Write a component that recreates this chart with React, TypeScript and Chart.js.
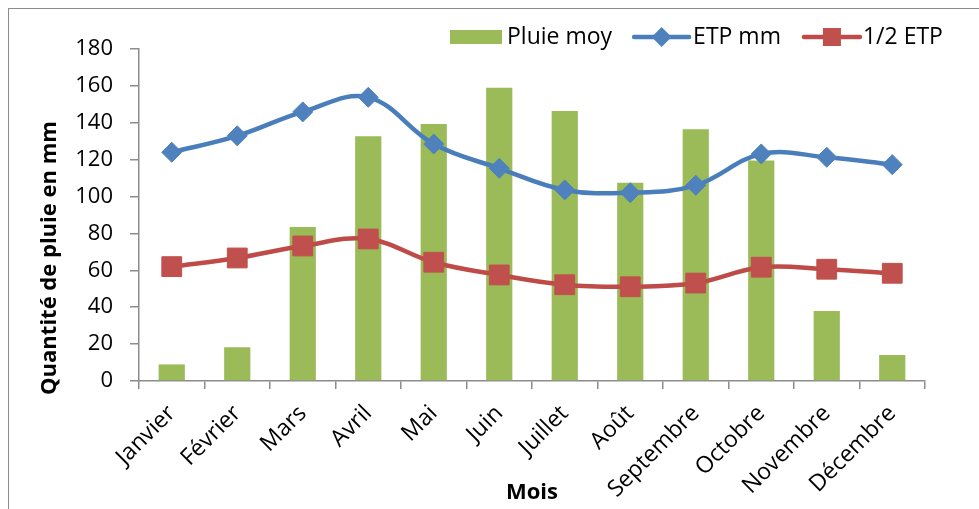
import React, { useEffect, useRef } from "react";
import { Chart, registerables } from "chart.js";

Chart.register(...registerables);

const months = [
  "Janvier", "Février", "Mars", "Avril", "Mai", "Juin",
  "Juillet", "Août", "Septembre", "Octobre", "Novembre", "Décembre",
];
const pluieMoy = [9, 18.3, 83.5, 132.7, 139.4, 159, 146.4, 107.5, 136.5, 119.5, 38, 14.1];
const etpMm = [124, 132.9, 145.9, 153.8, 128.5, 115.3, 103.6, 102.1, 106.1, 123.1, 121.3, 117.3];
const demiEtp = [62, 66.7, 73.2, 77, 64.4, 57.5, 52.2, 51.1, 53.1, 61.7, 60.6, 58.4];
const seriesNames = ["Pluie moy", "ETP mm", "1/2 ETP"];
const yTitle = "Quantité de pluie en mm";
const xTitle = "Mois";
const yMin = 0;
const yMax = 180;
const yStep = 20;

const FONT = "'Open Sans', 'Liberation Sans', sans-serif";
const GREEN = "#9BBB59";
const BLUE = "#4A7EBB";
const BLUE_M = "#4F81BD";
const RED = "#BE4B48";
const RED_M = "#C0504D";
const AXIS = "#8C8C8C";

const titlesPlugin = {
  id: "axisTitles",
  afterDraw(chart: any) {
    const ctx = chart.ctx;
    const area = chart.chartArea;
    ctx.save();
    ctx.fillStyle = "#000";
    ctx.font = `bold 22px ${FONT}`;
    ctx.textAlign = "center";
    ctx.textBaseline = "middle";
    ctx.fillText(xTitle, (area.left + area.right) / 2, 484);
    ctx.translate(41, 249);
    ctx.rotate(-Math.PI / 2);
    ctx.fillText(yTitle, 0, 0);
    ctx.restore();
  },
};

const legendPlugin = {
  id: "customLegend",
  afterDraw(chart: any) {
    const ctx = chart.ctx;
    const ds = chart.data.datasets;
    ctx.save();
    ctx.font = `23px ${FONT}`;
    ctx.textBaseline = "middle";
    ctx.textAlign = "left";
    const y = 28;
    let x = 441;
    ctx.fillStyle = GREEN;
    ctx.fillRect(x, y - 7, 52, 14);
    x += 57;
    ctx.fillStyle = "#000";
    ctx.fillText(ds[0].label, x, y);
    x += ctx.measureText(ds[0].label).width + 22;
    ctx.strokeStyle = BLUE;
    ctx.lineWidth = 4.5;
    ctx.lineCap = "round";
    ctx.beginPath();
    ctx.moveTo(x, y);
    ctx.lineTo(x + 55, y);
    ctx.stroke();
    const cx = x + 27.5;
    ctx.fillStyle = BLUE_M;
    ctx.beginPath();
    ctx.moveTo(cx, y - 10);
    ctx.lineTo(cx + 10, y);
    ctx.lineTo(cx, y + 10);
    ctx.lineTo(cx - 10, y);
    ctx.closePath();
    ctx.fill();
    x += 59;
    ctx.fillStyle = "#000";
    ctx.fillText(ds[1].label, x, y);
    x += ctx.measureText(ds[1].label).width + 23;
    ctx.strokeStyle = RED;
    ctx.beginPath();
    ctx.moveTo(x, y);
    ctx.lineTo(x + 56, y);
    ctx.stroke();
    ctx.fillStyle = RED_M;
    ctx.fillRect(x + 28 - 9, y - 9, 18, 18);
    x += 59;
    ctx.fillStyle = "#000";
    ctx.fillText(ds[2].label, x, y);
    ctx.restore();
  },
};

export default function App() {
  const canvasRef = useRef<HTMLCanvasElement | null>(null);

  useEffect(() => {
    const canvas = canvasRef.current;
    if (!canvas) return;
    const chart = new Chart(canvas, {
      type: "bar",
      data: {
        labels: months,
        datasets: [
          {
            type: "bar",
            label: seriesNames[0],
            data: pluieMoy,
            backgroundColor: GREEN,
            borderWidth: 0,
            barPercentage: 0.4,
            categoryPercentage: 1,
            order: 2,
          },
          {
            type: "line",
            label: seriesNames[1],
            data: etpMm,
            borderColor: BLUE,
            borderWidth: 4.5,
            tension: 0.38,
            pointStyle: "rectRot",
            pointRadius: 10,
            pointBorderWidth: 1,
            pointBackgroundColor: BLUE_M,
            pointBorderColor: BLUE_M,
            order: 0,
          },
          {
            type: "line",
            label: seriesNames[2],
            data: demiEtp,
            borderColor: RED,
            borderWidth: 4.5,
            tension: 0.38,
            pointStyle: "rect",
            pointRadius: 14,
            pointBorderWidth: 1,
            pointBackgroundColor: RED_M,
            pointBorderColor: RED_M,
            order: 1,
          },
        ] as any,
      },
      options: {
        responsive: false,
        maintainAspectRatio: false,
        animation: false,
        layout: { padding: { top: 40, right: 55, left: 0, bottom: 0 } },
        plugins: {
          legend: { display: false },
          tooltip: { enabled: false },
        },
        scales: {
          x: {
            offset: true,
            grid: {
              offset: true,
              display: true,
              drawOnChartArea: false,
              drawTicks: true,
              tickLength: 8,
              color: AXIS,
              lineWidth: 1.5,
            },
            border: { color: AXIS, width: 1.5 },
            ticks: {
              autoSkip: false,
              maxRotation: 45,
              minRotation: 45,
              color: "#000",
              padding: 11,
              font: { family: FONT, size: 23 },
            },
            afterFit: (s: any) => {
              s.height = 128;
            },
          },
          y: {
            min: yMin,
            max: yMax,
            grid: {
              drawOnChartArea: false,
              drawTicks: true,
              tickLength: 9,
              color: AXIS,
              lineWidth: 1.5,
            },
            border: { color: AXIS, width: 1.5 },
            ticks: {
              stepSize: yStep,
              color: "#000",
              padding: 17,
              font: { family: FONT, size: 22 },
            },
            afterFit: (s: any) => {
              s.width = 130;
            },
          },
        },
      } as any,
      plugins: [titlesPlugin, legendPlugin],
    });
    return () => chart.destroy();
  }, []);

  return (
    <div
      style={{
        position: "fixed",
        left: 8,
        top: 8,
        width: 980,
        height: 510,
        border: `1px solid ${AXIS}`,
        boxSizing: "border-box",
        background: "#fff",
      }}
    >
      <canvas
        ref={canvasRef}
        width={971}
        height={500}
        style={{ display: "block", width: 971, height: 500 }}
      />
    </div>
  );
}
